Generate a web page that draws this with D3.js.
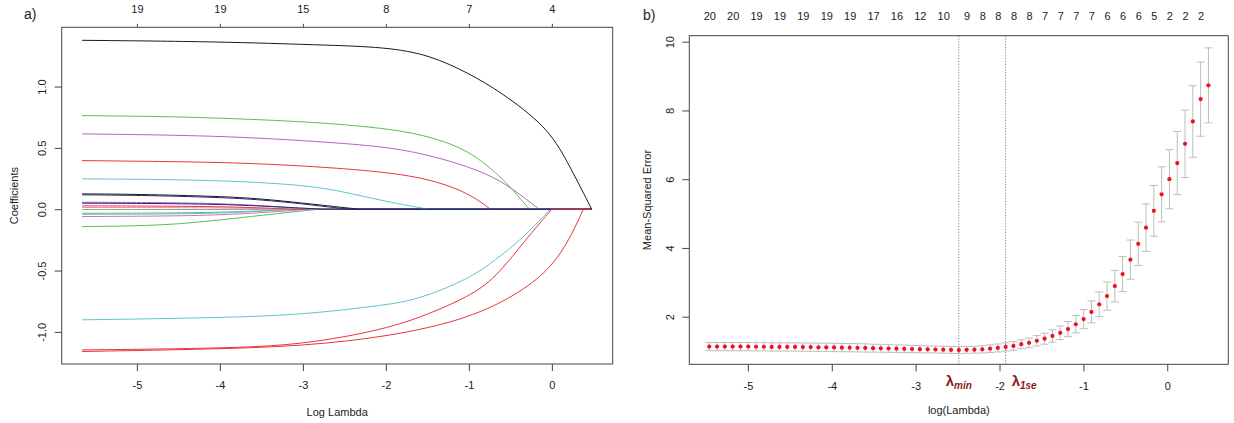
<!DOCTYPE html>
<html><head><meta charset="utf-8">
<script src="https://cdn.jsdelivr.net/npm/d3@7"></script>
<style>
body{margin:0;background:#fff}
svg{display:block}
text{font-family:"Liberation Sans",Arial,Helvetica,sans-serif;fill:#222}
</style>
</head><body>
<svg id="c" width="1234" height="423"></svg>
<script>
// ---------------- DATA ----------------
// Panel a) : coefficient paths (log lambda, coefficient)
const logLambdaTicksA = [-5, -4, -3, -2, -1, 0];
const dfTopA = ["19", "19", "15", "8", "7", "4"];
const coefTicks = [-1, -0.5, 0, 0.5, 1];
const lambdaSpanA = [-5.66, 0.48];
const coefColors = ["#999999","#EE88C0","#5DBE52","#5CC6CC","#D070C8","#E8343C","#B060C0","#5DBE52",
                    "#1A1A1A","#5CC6CC","#E8343C","#B665C4","#5DBE52","#5CC6CC","#E8343C","#22227A",
                    "#22227A","#E8343C","#1A1A1A"];
const coefPaths = [
  [[-5.66,-0.003],[-4.5,-0.003],[-3.8,-0.002],[-3.3,0]],
  [[-5.66,0.014],[-4.5,0.013],[-3.8,0.009],[-3.2,0]],
  [[-5.66,-0.033],[-4.5,-0.031],[-3.8,-0.022],[-3.4,-0.01],[-3.05,0]],
  [[-5.66,-0.042],[-4.5,-0.04],[-3.8,-0.028],[-3.4,-0.012],[-3.1,0]],
  [[-5.66,-0.06],[-4.5,-0.056],[-3.8,-0.042],[-3.3,-0.018],[-2.9,0]],
  [[-5.66,0.027],[-4.5,0.025],[-3.8,0.018],[-3.4,0.008],[-3.1,0]],
  [[-5.66,0.057],[-4.5,0.054],[-3.8,0.042],[-3.3,0.02],[-2.95,0]],
  [[-5.66,-0.142],[-5,-0.136],[-4.5,-0.122],[-4,-0.088],[-3.5,-0.05],[-3.1,-0.02],[-2.8,0]],
  [[-5.66,0.125],[-5,0.122],[-4,0.105],[-3.5,0.085],[-3,0.05],[-2.6,0.02],[-2.32,0]],
  [[-5.66,0.247],[-5,0.245],[-4,0.235],[-3,0.2],[-2.5,0.142],[-2,0.062],[-1.49,0]],
  [[-5.66,0.396],[-4,0.385],[-3,0.355],[-2,0.306],[-1.43,0.239],[-1,0.13],[-0.74,0]],
  [[-5.66,0.614],[-4,0.6],[-2.79,0.551],[-2,0.51],[-1.5,0.445],[-1,0.347],[-0.62,0.239],[-0.3,0.076],[-0.15,0]],
  [[-5.66,0.763],[-4.5,0.755],[-3.5,0.73],[-2.79,0.706],[-2,0.66],[-1.5,0.6],[-1,0.483],[-0.62,0.266],[-0.47,0.157],[-0.27,0]],
  [[-5.66,-0.902],[-4,-0.885],[-3,-0.861],[-2,-0.78],[-1.63,-0.74],[-1,-0.571],[-0.68,-0.413],[-0.37,-0.25],[-0.02,0]],
  [[-5.66,-1.16],[-4,-1.14],[-3,-1.114],[-2,-1.043],[-1,-0.897],[-0.35,-0.67],[0,-0.468],[0.21,-0.25],[0.38,0]],
  [[-5.66,0.049],[-4.5,0.046],[-3.8,0.036],[-3.2,0.016],[-2.75,0]],
  [[-5.66,0.117],[-5,0.114],[-4,0.097],[-3.5,0.077],[-3,0.044],[-2.7,0.018],[-2.42,0]],
  [[-5.66,-1.147],[-4,-1.135],[-3,-1.106],[-2,-0.978],[-1.5,-0.86],[-1,-0.712],[-0.68,-0.563],[-0.32,-0.25],[0,0]],
  [[-5.66,1.377],[-4,1.366],[-2.79,1.339],[-2,1.322],[-1.47,1.257],[-1,1.108],[-0.62,0.958],[-0.06,0.673],[0.18,0.40],[0.48,0]]
];

// Panel b) : cross-validation curve
const cvLogLambda = [-5.461,-5.368,-5.275,-5.182,-5.089,-4.996,-4.903,-4.810,-4.717,-4.624,
  -4.531,-4.438,-4.345,-4.252,-4.159,-4.066,-3.973,-3.880,-3.787,-3.694,
  -3.601,-3.508,-3.415,-3.322,-3.229,-3.136,-3.043,-2.950,-2.857,-2.764,
  -2.671,-2.578,-2.485,-2.392,-2.299,-2.206,-2.113,-2.020,-1.927,-1.834,
  -1.741,-1.648,-1.555,-1.462,-1.369,-1.276,-1.183,-1.090,-0.997,-0.904,
  -0.811,-0.718,-0.625,-0.532,-0.439,-0.346,-0.253,-0.160,-0.067,0.026,
  0.119,0.212,0.305,0.398,0.491];
const cvMSE = [1.13,1.13,1.13,1.13,1.13,1.13,1.125,1.125,1.12,1.12,
  1.12,1.12,1.115,1.115,1.11,1.11,1.105,1.10,1.10,1.095,
  1.09,1.085,1.08,1.075,1.07,1.065,1.06,1.055,1.05,1.045,
  1.04,1.035,1.03,1.035,1.04,1.05,1.07,1.09,1.12,1.15,
  1.20,1.24,1.30,1.36,1.44,1.53,1.64,1.78,1.93,2.14,
  2.36,2.60,2.89,3.24,3.66,4.12,4.59,5.08,5.56,6.00,
  6.47,7.03,7.68,8.33,8.73];
const cvSD = [0.12,0.12,0.12,0.12,0.12,0.12,0.12,0.12,0.12,0.12,
  0.12,0.12,0.12,0.12,0.12,0.12,0.12,0.12,0.12,0.12,
  0.12,0.115,0.115,0.11,0.11,0.11,0.105,0.105,0.10,0.10,
  0.10,0.10,0.10,0.10,0.10,0.105,0.11,0.115,0.12,0.125,
  0.13,0.14,0.15,0.16,0.18,0.20,0.22,0.25,0.28,0.32,
  0.36,0.41,0.46,0.51,0.57,0.63,0.69,0.74,0.80,0.86,
  0.92,0.98,1.04,1.08,1.09];
const dfTopB = ["20","20","19","19","19","19","19","17","16","12","10",
  "9","8","8","8","8","7","7","7","7","6","6","6","5","2","2","2"];
const dfTopBPos = [-5.461,-5.182,-4.903,-4.624,-4.345,-4.066,-3.787,-3.508,-3.229,-2.950,-2.671,
  -2.392,-2.206,-2.020,-1.834,-1.648,-1.462,-1.276,-1.090,-0.904,-0.718,-0.532,-0.346,-0.160,0.026,0.212,0.398];
const logLambdaTicksB = [-5, -4, -3, -2, -1, 0];
const mseTicks = [2, 4, 6, 8, 10];
const lambdaMin = -2.485, lambda1se = -1.927;

// ---------------- LAYOUT ----------------
const svg = d3.select("#c");
const boxA = {l: 61.7, r: 612.7, t: 27.3, b: 364};
const boxB = {l: 689.3, r: 1228.3, t: 35.7, b: 364.3};
const FS = 11;

const xA = d3.scaleLinear().domain([-5.906, 0.733]).range([boxA.l, boxA.r]);
const yA = d3.scaleLinear().domain([-1.262, 1.483]).range([boxA.b, boxA.t]);
const xB = d3.scaleLinear().domain([-5.699, 0.728]).range([boxB.l, boxB.r]);
const yB = d3.scaleLinear().domain([0.615, 10.175]).range([boxB.b, boxB.t]);

function styleAxis(g) {
  g.select(".domain").remove();
  g.selectAll(".tick line").attr("stroke", "#444").attr("stroke-width", 1);
  g.selectAll(".tick text").attr("font-size", FS).attr("fill", "#222")
    .attr("font-family", '"Liberation Sans",Arial,sans-serif');
}

// ---------- Panel a ----------
const gA = svg.append("g");
const lineGen = d3.line().x(d => xA(d[0])).y(d => yA(d[1])).curve(d3.curveBasis);
coefPaths.forEach((p, i) => {
  gA.append("path").attr("d", lineGen(p)).attr("fill", "none")
    .attr("stroke", coefColors[i]).attr("stroke-width", 1);
  const last = p[p.length - 1];
  if (last[0] < lambdaSpanA[1]) {
    gA.append("line").attr("x1", xA(last[0])).attr("x2", xA(lambdaSpanA[1]))
      .attr("y1", yA(0)).attr("y2", yA(0))
      .attr("stroke", coefColors[i]).attr("stroke-width", 1);
  }
});
gA.append("rect").attr("x", boxA.l).attr("y", boxA.t).attr("width", boxA.r - boxA.l)
  .attr("height", boxA.b - boxA.t).attr("fill", "none").attr("stroke", "#444").attr("stroke-width", 1);

gA.append("g").attr("transform", `translate(0,${boxA.b})`)
  .call(d3.axisBottom(xA).tickValues(logLambdaTicksA).tickSize(7).tickPadding(10).tickFormat(d => String(d)))
  .call(styleAxis);
gA.append("g").attr("transform", `translate(0,${boxA.t})`)
  .call(d3.axisTop(xA).tickValues(logLambdaTicksA).tickSize(3.5).tickPadding(11.3).tickFormat((d, i) => dfTopA[i]))
  .call(styleAxis);
const yAxA = gA.append("g").attr("transform", `translate(${boxA.l},0)`)
  .call(d3.axisLeft(yA).tickValues(coefTicks).tickSize(7).tickFormat(d => d.toFixed(1)))
  .call(styleAxis);
yAxA.selectAll(".tick text").attr("transform", "rotate(-90)").attr("x", 0).attr("y", -20)
  .attr("dy", "0.35em").attr("text-anchor", "middle");

gA.append("text").attr("x", (boxA.l + boxA.r) / 2).attr("y", 416).attr("text-anchor", "middle")
  .attr("font-size", FS).text("Log Lambda");
gA.append("text").attr("transform", `translate(18,${(boxA.t + boxA.b) / 2}) rotate(-90)`)
  .attr("text-anchor", "middle").attr("font-size", FS).text("Coefficients");
gA.append("text").attr("x", 24).attr("y", 19).attr("font-size", 14).text("a)");

// ---------- Panel b ----------
const gB = svg.append("g");
const capW = 4;
const bars = gB.append("g").attr("stroke", "#BDBDBD").attr("stroke-width", 1);
cvLogLambda.forEach((lx, i) => {
  const x = xB(lx), up = yB(cvMSE[i] + cvSD[i]), lo = yB(cvMSE[i] - cvSD[i]);
  bars.append("line").attr("x1", x).attr("x2", x).attr("y1", up).attr("y2", lo);
  bars.append("line").attr("x1", x - capW).attr("x2", x + capW).attr("y1", up).attr("y2", up);
  bars.append("line").attr("x1", x - capW).attr("x2", x + capW).attr("y1", lo).attr("y2", lo);
});
gB.append("g").selectAll("circle").data(cvLogLambda).join("circle")
  .attr("cx", d => xB(d)).attr("cy", (d, i) => yB(cvMSE[i])).attr("r", 2.1).attr("fill", "#F01020");

[lambdaMin, lambda1se].forEach(v => {
  gB.append("line").attr("x1", xB(v)).attr("x2", xB(v)).attr("y1", boxB.t).attr("y2", boxB.b)
    .attr("stroke", "#666").attr("stroke-width", 0.8).attr("stroke-dasharray", "1.2,1.6");
});

gB.append("rect").attr("x", boxB.l).attr("y", boxB.t).attr("width", boxB.r - boxB.l)
  .attr("height", boxB.b - boxB.t).attr("fill", "none").attr("stroke", "#444").attr("stroke-width", 1);

gB.append("g").attr("transform", `translate(0,${boxB.b})`)
  .call(d3.axisBottom(xB).tickValues(logLambdaTicksB).tickSize(7).tickPadding(10.5).tickFormat(d => String(d)))
  .call(styleAxis);
gB.append("g").attr("transform", `translate(0,${boxB.t})`)
  .call(d3.axisTop(xB).tickValues(dfTopBPos).tickSize(0).tickPadding(15.7).tickFormat((d, i) => dfTopB[i]))
  .call(styleAxis);
const yAxB = gB.append("g").attr("transform", `translate(${boxB.l},0)`)
  .call(d3.axisLeft(yB).tickValues(mseTicks).tickSize(7).tickFormat(d => String(d)))
  .call(styleAxis);
yAxB.selectAll(".tick text").attr("transform", "rotate(-90)").attr("x", 0).attr("y", -19.3)
  .attr("dy", "0.35em").attr("text-anchor", "middle");

gB.append("text").attr("x", (boxB.l + boxB.r) / 2).attr("y", 414).attr("text-anchor", "middle")
  .attr("font-size", FS).text("log(Lambda)");
gB.append("text").attr("transform", `translate(651,${(boxB.t + boxB.b) / 2}) rotate(-90)`)
  .attr("text-anchor", "middle").attr("font-size", FS).text("Mean-Squared Error");
gB.append("text").attr("x", 643).attr("y", 20).attr("font-size", 14).text("b)");

// lambda labels
function lamLabel(x, anchor, sub) {
  const t = gB.append("text").attr("x", x).attr("y", 386).attr("text-anchor", anchor)
    .attr("font-family", '"Liberation Serif","DejaVu Serif",serif').style("fill", "#8B1A1A");
  t.append("tspan").attr("font-size", 15).attr("font-weight", "bold").text("λ");
  t.append("tspan").attr("font-size", 10).attr("font-style", "italic").attr("font-weight", "bold")
    .attr("dy", 3).text(sub);
}
lamLabel(xB(lambdaMin), "middle", "min");
lamLabel(xB(lambda1se) + 6, "start", "1se");
</script>
</body></html>
